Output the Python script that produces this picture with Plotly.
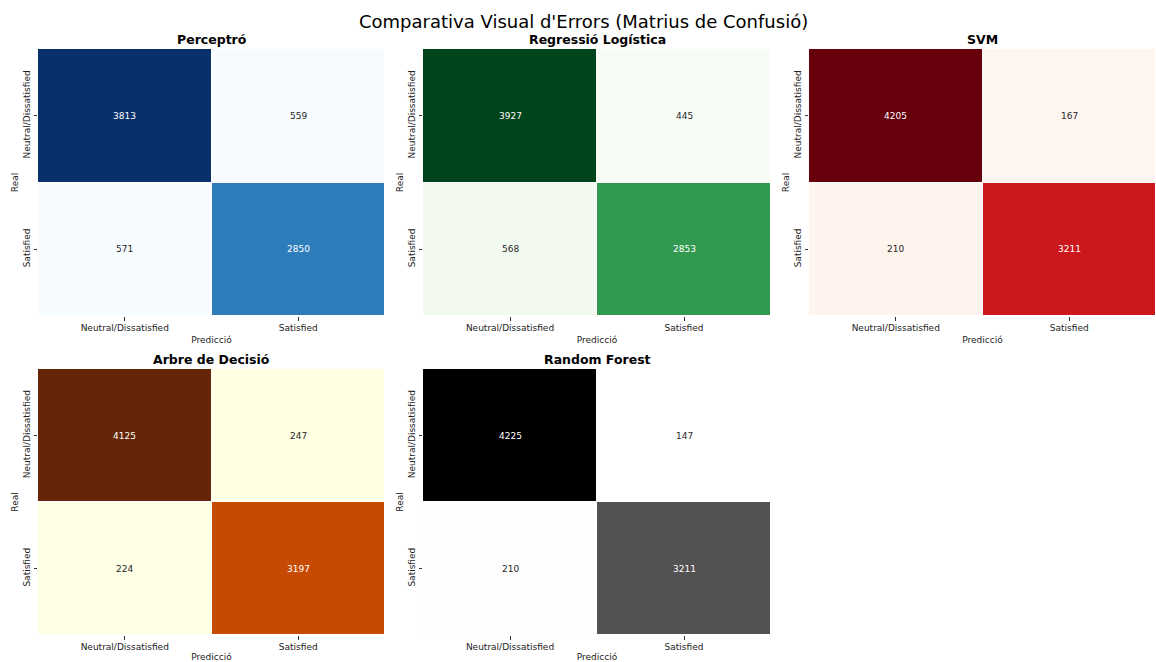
import plotly.graph_objects as go
import plotly.colors as pc

# Confusion matrices per model: rows = real class, cols = predicted class
classes = ["Neutral/Dissatisfied", "Satisfied"]
model_names = ["Perceptró", "Regressió Logística", "SVM", "Arbre de Decisió", "Random Forest"]
cm_perceptro = [[3813, 559], [571, 2850]]
cm_logistica = [[3927, 445], [568, 2853]]
cm_svm = [[4205, 167], [210, 3211]]
cm_arbre = [[4125, 247], [224, 3197]]
cm_forest = [[4225, 147], [210, 3211]]
matrices = [cm_perceptro, cm_logistica, cm_svm, cm_arbre, cm_forest]
palettes = [pc.sequential.Blues, pc.sequential.Greens, pc.sequential.Reds,
            pc.sequential.YlOrBr, pc.sequential.Greys]

W, H = 1156, 662
FONT = "DejaVu Sans"

# panel boxes in pixels: (left, right, top, bottom)
col_px = [(38, 385), (423, 771), (809, 1156)]
row_px = [(49, 316), (369, 635)]


def to_rgb(c):
    c = c.strip()
    if c.startswith("#"):
        return tuple(int(c[i:i + 2], 16) for i in (1, 3, 5))
    return tuple(int(float(v)) for v in c[c.index("(") + 1:-1].split(","))


def sample(palette, t):
    cols = [to_rgb(c) for c in palette]
    n = len(cols) - 1
    t = min(max(t, 0.0), 1.0)
    i = min(int(t * n), n - 1)
    f = t * n - i
    return tuple(cols[i][k] + (cols[i + 1][k] - cols[i][k]) * f for k in range(3))


def luminance(rgb):
    out = []
    for v in rgb:
        v = v / 255.0
        out.append(v / 12.92 if v <= 0.03928 else ((v + 0.055) / 1.055) ** 2.4)
    return 0.2126 * out[0] + 0.7152 * out[1] + 0.0722 * out[2]


fig = go.Figure()
layout = {}
annotations = []

for idx, (name, cm, pal) in enumerate(zip(model_names, matrices, palettes)):
    r, c = divmod(idx, 3)
    n = idx + 1
    xs = "" if n == 1 else str(n)
    xl, xr = col_px[c]
    yt, yb = row_px[r]
    scale = [[k / (len(pal) - 1), col] for k, col in enumerate(pal)]
    vmin = min(min(row) for row in cm)
    vmax = max(max(row) for row in cm)
    fig.add_trace(go.Heatmap(
        z=cm, x=classes, y=classes, colorscale=scale, zmin=vmin, zmax=vmax,
        showscale=False, xgap=1, ygap=1, hoverinfo="skip",
        xaxis="x" + xs, yaxis="y" + xs,
    ))
    layout["xaxis" + xs] = dict(
        domain=[xl / W, xr / W], anchor="y" + xs, type="category",
        showgrid=False, zeroline=False, showline=False,
        ticks="outside", ticklen=3.5, tickwidth=0.8, tickcolor="#333",
        tickfont=dict(family=FONT, size=9, color="#222"),
        title=dict(text="Predicció", font=dict(family=FONT, size=9, color="#222"), standoff=4),
    )
    layout["yaxis" + xs] = dict(
        domain=[1 - yb / H, 1 - yt / H], anchor="x" + xs, type="category",
        autorange="reversed", showgrid=False, zeroline=False, showline=False,
        ticks="outside", ticklen=3.5, tickwidth=0.8, tickcolor="#333", tickangle=-90,
        tickfont=dict(family=FONT, size=9, color="#222"),
        title=dict(text="Real", font=dict(family=FONT, size=9, color="#222"), standoff=1),
    )
    # subplot title
    annotations.append(dict(
        text="<b>" + name + "</b>", x=(xl + xr) / 2 / W, y=1 - (yt - 0) / H,
        xref="paper", yref="paper", xanchor="center", yanchor="bottom", showarrow=False,
        font=dict(family=FONT, size=12.5, color="black"),
    ))
    # cell values
    for i, real in enumerate(classes):
        for j, pred in enumerate(classes):
            v = cm[i][j]
            rgb = sample(pal, (v - vmin) / (vmax - vmin))
            tc = "#262626" if luminance(rgb) > 0.408 else "white"
            annotations.append(dict(
                text=str(v), x=pred, y=real, xref="x" + xs, yref="y" + xs,
                showarrow=False, font=dict(family=FONT, size=9, color=tc),
            ))

annotations.append(dict(
    text="Comparativa Visual d'Errors (Matrius de Confusió)", x=583.5 / W, y=1 - 21 / H,
    xref="paper", yref="paper", xanchor="center", yanchor="middle", showarrow=False,
    font=dict(family=FONT, size=18, color="black"),
))

fig.update_layout(
    width=W, height=H, margin=dict(l=0, r=0, t=0, b=0),
    paper_bgcolor="white", plot_bgcolor="white",
    annotations=annotations, **layout,
)

fig.write_html("out.html")
